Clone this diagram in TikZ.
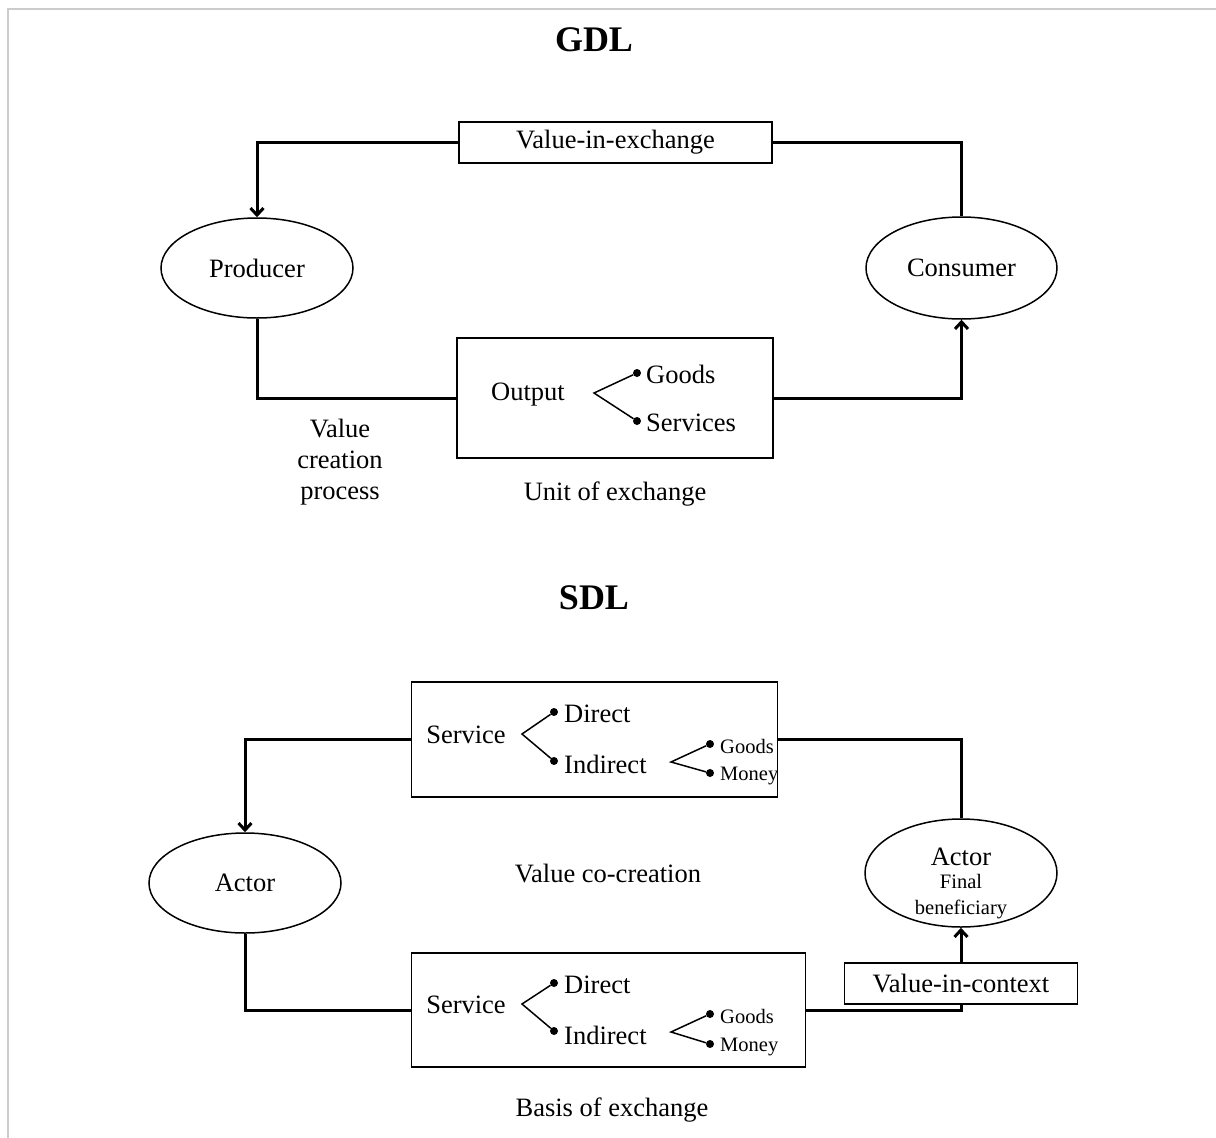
\documentclass[tikz,border=0pt]{standalone}
\usepackage{fontspec}
\setmainfont{Liberation Serif}
\usetikzlibrary{arrows.meta,shapes.geometric}

\tikzset{
  txt/.style={font=\fontsize{26.5}{30}\selectfont, inner sep=0pt},
  small/.style={font=\fontsize{20.5}{24}\selectfont, inner sep=0pt},
  title/.style={font=\fontsize{36}{40}\selectfont\bfseries, inner sep=0pt},
  box/.style={draw, line width=1.5pt, inner sep=0pt},
  oval/.style={draw, ellipse, line width=1.5pt, inner sep=0pt},
  conn/.style={line width=3pt},
  arr/.style={conn, -{Straight Barb[length=7pt,width=13pt,line width=3pt]}},
  branch/.style={line width=1.5pt},
  dot/.style={circle, fill, inner sep=0pt, minimum size=8pt},
}

\begin{document}
\begin{tikzpicture}[x=1pt,y=-1pt]
\useasboundingbox (0,0) rectangle (1216,1138);
% frame
\draw[line width=2pt, draw=black!20] (7.5,1138) -- (7.5,8.5) -- (1216,8.5);

% ---------------- GDL ----------------
\node[title] (gdl) at (594,40) {GDL};

\node[box, minimum width=313pt, minimum height=41pt, txt] (vie) at (615.5,142.5) {Value-in-exchange};
\node[oval, minimum width=192pt, minimum height=100pt, txt] (prod) at (257,268) {Producer};
\node[oval, minimum width=191pt, minimum height=102pt, txt] (cons) at (961.5,268) {Consumer};

\node[box, minimum width=316pt, minimum height=120pt] (out) at (615,398) {};
\node[txt] (outt) at (528,395) {Output};
\coordinate (ov) at (594,393);
\node[dot] (og) at (637,373) {};
\node[dot] (os) at (637,421) {};
\draw[branch] (og) -- (ov) -- (os);
\node[txt, anchor=west] (goods) at (646,374) {Goods};
\node[txt, anchor=west] (serv) at (646,423) {Services};

\node[txt, align=center] (vcp) at (340,462) {Value\\[1pt]creation\\[1pt]process};
\node[txt] (uoe) at (615,494) {Unit of exchange};

\draw[conn] (cons.north) |- (vie.east);
\draw[arr] (vie.west) -| (prod.north);
\draw[conn] (prod.south) |- (out.west);
\draw[arr] (out.east) -| (cons.south);

% ---------------- SDL ----------------
\node[title] (sdl) at (594,598) {SDL};

% upper service box
\node[box, minimum width=366pt, minimum height=115pt] (sa) at (594.5,739.5) {};
\node[txt] (sat) at (466,735) {Service};
\coordinate (sav) at (522,734);
\node[dot] (sad) at (554,712) {};
\node[dot] (sai) at (554,761) {};
\draw[branch] (sad) -- (sav) -- (sai);
\node[txt, anchor=west] (sadt) at (564,714) {Direct};
\node[txt, anchor=west] (sait) at (564,764) {Indirect};
\coordinate (sav2) at (671,762);
\node[dot] (sag) at (710,744) {};
\node[dot] (sam) at (710,773) {};
\draw[branch] (sag) -- (sav2) -- (sam);
\node[small, anchor=west] (sagt) at (720,746) {Goods};
\node[small, anchor=west] (samt) at (720,776) {Money};

% actors
\node[oval, minimum width=192pt, minimum height=100pt, txt] (act1) at (245,883) {Actor};
\node[oval, minimum width=192pt, minimum height=108pt] (act2) at (961,873) {};
\node[txt] (act2t) at (961,857) {Actor};
\node[small, align=center] (act2s) at (961,897) {Final\\[2pt]beneficiary};

\node[txt] (vcc) at (608,873) {Value co-creation};

\node[box, minimum width=233pt, minimum height=41pt, txt] (vic) at (961,983.5) {Value-in-context};

% lower service box
\node[box, minimum width=394pt, minimum height=114pt] (sb) at (608.5,1010) {};
\node[txt] (sbt) at (466,1005) {Service};
\coordinate (sbv) at (522,1004);
\node[dot] (sbd) at (554,983) {};
\node[dot] (sbi) at (554,1031) {};
\draw[branch] (sbd) -- (sbv) -- (sbi);
\node[txt, anchor=west] (sbdt) at (564,985) {Direct};
\node[txt, anchor=west] (sbit) at (564,1035) {Indirect};
\coordinate (sbv2) at (671,1032);
\node[dot] (sbg) at (710,1014) {};
\node[dot] (sbm) at (710,1044) {};
\draw[branch] (sbg) -- (sbv2) -- (sbm);
\node[small, anchor=west] (sbgt) at (720,1016) {Goods};
\node[small, anchor=west] (sbmt) at (720,1047) {Money};

\node[txt] (boe) at (612,1110) {Basis of exchange};

\draw[arr] (sa.west) -| (act1.north);
\draw[conn] (sa.east) -| (act2.north);
\draw[conn] (act1.south) |- (sb.west);
\draw[conn] (sb.east) -| (vic.south);
\draw[arr] (vic.north) -- (act2.south);
\end{tikzpicture}
\end{document}
